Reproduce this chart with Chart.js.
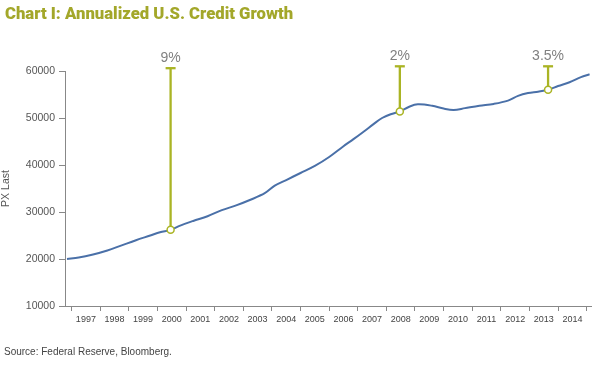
<!DOCTYPE html>
<html>
<head>
<meta charset="utf-8">
<script src="https://cdn.jsdelivr.net/npm/chart.js@4.4.0/dist/chart.umd.min.js"></script>
<style>
    html, body { margin: 0; padding: 0; background: #fff; }
    #wrap { position: relative; width: 600px; height: 374px; overflow: hidden; }
    #title {
        position: absolute; left: 5px; top: 6px; white-space: nowrap;
        font-family: Roboto, sans-serif; font-weight: 900; font-size: 16.5px; line-height: 16.5px;
        color: #a3a72a; transform-origin: left top;
    }
    #source {
        position: absolute; left: 4px; top: 346px; white-space: nowrap;
        font-family: "Liberation Sans", Arial, sans-serif; font-size: 10px; color: #444;
    }
    #chart { position: absolute; left: 0; top: 0; }
</style>
</head>
<body>
<div id="wrap">
    <canvas id="chart" width="600" height="374"></canvas>
    <div id="title">Chart I: Annualized U.S. Credit Growth</div>
    <div id="source">Source: Federal Reserve, Bloomberg.</div>
</div>
<script>
// Credit series (decimal year, PX Last)
const years = [1996.84, 1997.25, 1997.75, 1998.25, 1998.75, 1999.25, 1999.75, 2000.09, 2000.46, 2000.75,
    2001.25, 2001.75, 2002.25, 2002.75, 2003.25, 2003.75, 2004.1, 2004.5, 2005.0, 2005.5,
    2006.0, 2006.5, 2006.85, 2007.25, 2007.55, 2007.85, 2008.15, 2008.47, 2008.8, 2009.1,
    2009.6, 2010.0, 2010.35, 2010.75, 2011.25, 2011.75, 2012.25, 2012.6, 2012.95, 2013.3,
    2013.65, 2014.0, 2014.4, 2014.8, 2015.1];
const values = [20000, 20300, 20950, 21800, 22900, 24000, 25000, 25700, 26200, 27000,
    28100, 29100, 30400, 31400, 32600, 34000, 35600, 36800, 38300, 39800,
    41700, 44000, 45500, 47300, 48700, 50000, 50800, 51400, 52400, 52900,
    52600, 52000, 51700, 52100, 52600, 53000, 53700, 54700, 55300, 55600,
    56000, 56800, 57600, 58700, 59300];

// Growth markers
const annoYears = [2000.46, 2008.47, 2013.65];
const annoBase = [26200, 51400, 56000];
const annoTop = [60600, 61000, 61000];
const annoLabels = ['9%', '2%', '3.5%'];

// Axis ticks
const yTicks = [10000, 20000, 30000, 40000, 50000, 60000];
const xTickYears = [1997, 1998, 1999, 2000, 2001, 2002, 2003, 2004, 2005, 2006,
    2007, 2008, 2009, 2010, 2011, 2012, 2013, 2014, 2015];

const olive = '#aab424';
const blue = '#4a70a8';

// squeeze the title to the reference width
const titleEl = document.getElementById('title');
titleEl.style.transform = 'scaleX(' + (288 / titleEl.offsetWidth) + ')';

const annoDatasets = annoYears.map((yr, i) => ({
    data: [{x: yr, y: annoBase[i]}, {x: yr, y: annoTop[i]}],
    borderColor: olive,
    borderWidth: 2.3,
    pointStyle: ['circle', 'line'],
    pointRadius: [3.5, 5],
    pointBorderWidth: [1.5, 2.3],
    pointBorderColor: olive,
    pointBackgroundColor: '#fff',
    clip: false,
    order: 0
}));

const annoText = {
    id: 'annoText',
    afterDatasetsDraw(chart) {
        const ctx = chart.ctx;
        const xs = chart.scales.x, ys = chart.scales.y;
        ctx.save();
        ctx.font = '14px "Liberation Sans", Arial, sans-serif';
        ctx.fillStyle = '#808080';
        ctx.textAlign = 'center';
        ctx.textBaseline = 'alphabetic';
        annoLabels.forEach((t, i) => {
            ctx.fillText(t, xs.getPixelForValue(annoYears[i]), ys.getPixelForValue(annoTop[i]) - 6);
        });
        ctx.restore();
    }
};

new Chart(document.getElementById('chart'), {
    type: 'line',
    data: {
        datasets: [
            ...annoDatasets,
            {
                data: years.map((yr, i) => ({x: yr, y: values[i]})),
                borderColor: blue,
                borderWidth: 2,
                pointRadius: 0,
                tension: 0.35,
                order: 1
            }
        ]
    },
    options: {
        responsive: false,
        animation: false,
        events: [],
        layout: { padding: { top: 71, right: 9, bottom: 44, left: 0 } },
        plugins: { legend: { display: false }, tooltip: { enabled: false } },
        scales: {
            x: {
                type: 'linear',
                min: 1996.77,
                max: 2015.15,
                afterFit: s => { s.height = 24; },
                afterBuildTicks: s => { s.ticks = xTickYears.map(v => ({value: v})); },
                grid: { drawOnChartArea: false, tickLength: 5, color: '#888' },
                border: { color: '#888', dash: [4, 3] },
                ticks: {
                    maxRotation: 0,
                    autoSkip: false,
                    labelOffset: 14.3,
                    padding: 3,
                    color: '#444',
                    font: { family: '"Liberation Sans", Arial, sans-serif', size: 9 },
                    callback: v => (v < 2015 ? String(v) : '')
                }
            },
            y: {
                min: 10000,
                max: 60000,
                afterFit: s => { s.width = 65; },
                afterBuildTicks: s => { s.ticks = yTicks.map(v => ({value: v})); },
                grid: { drawOnChartArea: false, tickLength: 6, color: '#888' },
                border: { color: '#888' },
                ticks: {
                    padding: 4,
                    color: '#555',
                    font: { family: '"Liberation Sans", Arial, sans-serif', size: 10.5 },
                    callback: v => String(v)
                },
                title: {
                    display: true,
                    text: 'PX Last',
                    color: '#555',
                    padding: { top: 0, bottom: 2 },
                    font: { family: '"Liberation Sans", Arial, sans-serif', size: 10.5 }
                }
            }
        }
    },
    plugins: [annoText]
});
</script>
</body>
</html>
